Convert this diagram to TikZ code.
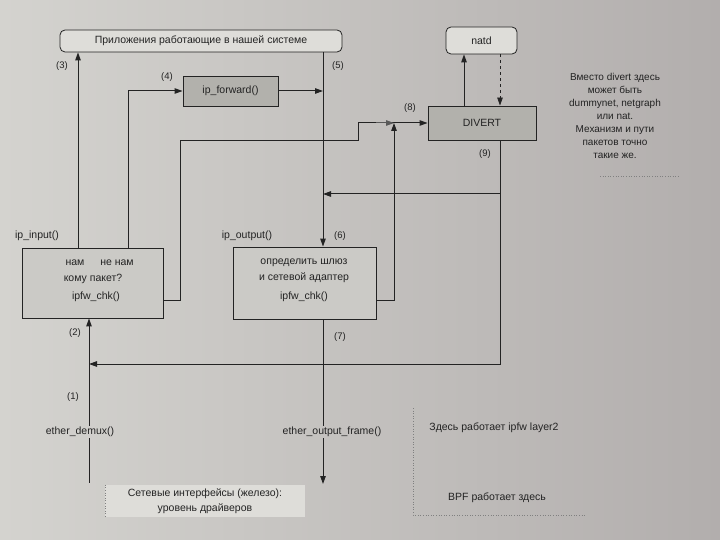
\documentclass[tikz,border=0pt]{standalone}
\usepackage{fontspec}
\setmainfont{Liberation Sans}
\usetikzlibrary{arrows.meta,calc}
\definecolor{bgL}{RGB}{212,211,207}
\definecolor{bgR}{RGB}{178,174,173}
\definecolor{fillA}{RGB}{222,221,217}
\definecolor{fillB}{RGB}{203,202,198}
\definecolor{fillC}{RGB}{178,177,172}
\definecolor{ink}{RGB}{35,35,35}
\tikzset{
  every node/.style={font=\fontsize{10.5}{12}\selectfont, text=ink},
  boxA/.style={draw=ink, line width=0.9pt, fill=fillB, inner sep=0pt},
  boxD/.style={draw=ink, line width=0.9pt, fill=fillC, inner sep=0pt},
  rbox/.style={draw=ink, line width=0.8pt, fill=fillA, rounded corners=5pt, inner sep=0pt},
  con/.style={draw=ink, line width=1pt},
  arr/.style={con, -{Triangle[length=8pt,width=5.5pt]}},
  num/.style={font=\fontsize{9.5}{11}\selectfont},
  note/.style={font=\fontsize{10}{13}\selectfont, align=center},
  dotline/.style={draw=gray, line width=0.6pt, dotted}
}
\begin{document}
\begin{tikzpicture}[x=1pt,y=-1pt]
\useasboundingbox (0,0) rectangle (720,540);
\shade[left color=bgL, right color=bgR] (0,0) rectangle (720,540);

% nodes
\node[rbox, minimum width=282pt, minimum height=22pt] (app) at (201,41) {Приложения работающие в нашей системе};
\node[rbox, minimum width=71pt, minimum height=27pt] (natd) at (481.5,40.5) {natd};
\node[boxD, minimum width=95pt, minimum height=30pt] (fwd) at (230.5,91) {ip\_forward()};
\node[boxD, minimum width=108pt, minimum height=34pt] (divert) at (482,123) {DIVERT};
\node[boxA, minimum width=141pt, minimum height=70pt] (ipin) at (92.5,283) {};
\node[boxA, minimum width=143pt, minimum height=72pt] (ipout) at (304.5,283) {};

\node (t1) at (75,263) {нам};
\node (t2) at (117,263) {не нам};
\node (t3) at (93,279) {кому пакет?};
\node (t4) at (96,297) {ipfw\_chk()};
\node (t5) at (304,263) {определить шлюз};
\node (t6) at (304,278) {и сетевой адаптер};
\node (t7) at (304,297) {ipfw\_chk()};

\node (lin) at (37,236) {ip\_input()};
\node (lout) at (247,236) {ip\_output()};
\node[inner sep=1pt] (demux) at (80,432) {ether\_demux()};
\node[inner sep=1pt] (oframe) at (332,432) {ether\_output\_frame()};

\node[num] (n1) at (73,397) {(1)};
\node[num] (n2) at (75,333) {(2)};
\node[num] (n3) at (62,66) {(3)};
\node[num] (n4) at (167,77) {(4)};
\node[num] (n5) at (338,66) {(5)};
\node[num] (n6) at (340,236) {(6)};
\node[num] (n7) at (340,337) {(7)};
\node[num] (n8) at (410,108) {(8)};
\node[num] (n9) at (485,154) {(9)};

\node[note] (note) at (615,116) {Вместо divert здесь\\может быть\\dummynet, netgraph\\или nat.\\Механизм и пути\\пакетов точно\\такие же.};

\node[align=center, fill=fillA, inner sep=3pt, minimum width=200pt, minimum height=32pt, font=\fontsize{10.5}{15}\selectfont] (hw) at (205,501) {Сетевые интерфейсы (железо):\\уровень драйверов};
\node (l2) at (494,428) {Здесь работает ipfw layer2};
\node (bpf) at (497,498) {BPF работает здесь};

% helper coordinates
\coordinate (c1) at (89,0);
\coordinate (c3) at (78,0);
\coordinate (c4) at (128,0);
\coordinate (c5) at (323,0);
\coordinate (cy) at (0,300);
\coordinate (j) at (394,123);
\coordinate (k) at (500,194);
\coordinate (b1) at (89,483);
\coordinate (b2) at (323,484);
\coordinate (m) at (500,364);

% connectors
\draw[arr] (ipin.north -| c3) -- (app.south -| c3);
\draw[arr] (ipin.north -| c4) |- (fwd.west);
\draw[arr] (fwd.east) -- (fwd.east -| c5);
\draw[arr] (app.south -| c5) -- (ipout.north -| c5);
\draw[con] (ipin.east |- cy) -| (180,141) -- (358,141) -- (358,123) -- (j);
\draw[arr, draw=gray!70!black] (376,123) -- (j);
\draw[arr] (ipout.east |- cy) -| (j);
\draw[arr] (j) -- (divert.west |- j);
\draw[arr] (divert.north -| 464,0) -- (natd.south -| 464,0);
\draw[arr, dashed, line width=0.8pt] (natd.south -| k) -- (divert.north -| k);
\draw[arr] (divert.south -| k) -- (k) -- (k -| c5);
\draw[arr] (k) -- (m) -- (m -| c1);
\draw[arr] (demux.north -| c1) -- (ipin.south -| c1);
\draw[con] (demux.south -| c1) -- (b1);
\draw[con] (ipout.south -| c5) -- (oframe.north -| c5);
\draw[arr] (oframe.south -| c5) -- (b2);

% dotted frames
\draw[dotline] (hw.north west) -- (hw.south west);
\draw[dotline] (413,408) -- (413,515) -- (585,515);
\draw[dotline] (600,176) -- (680,176);
\end{tikzpicture}
\end{document}
